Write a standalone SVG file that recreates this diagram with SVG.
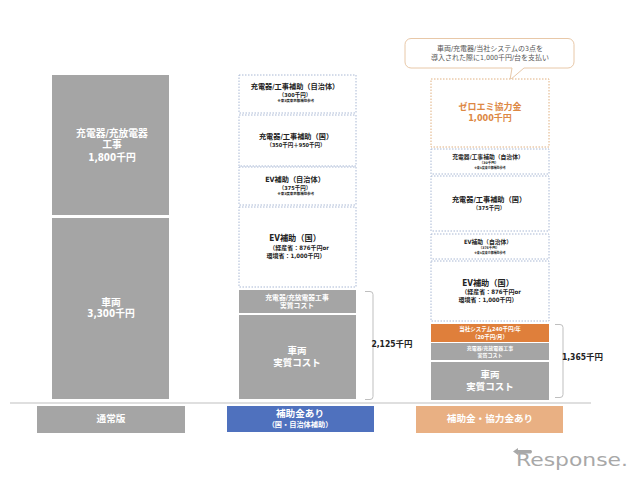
<svg xmlns="http://www.w3.org/2000/svg" width="640" height="480" viewBox="0 0 640 480">
<style>
text{font-family:"DejaVu Sans Condensed","Noto Sans CJK JP",sans-serif;text-anchor:middle}
.g{fill:#a5a5a5}
.d{fill:#fff;stroke:#a9b8d4;stroke-width:1;stroke-dasharray:1.5 1.5}
.o{fill:#fff;stroke:#e0b080;stroke-width:1;stroke-dasharray:1.5 1.5}
.w{fill:#fff;font-weight:700}
.k{fill:#222;font-weight:700}
.b{fill:none;stroke:#bfbfbf;stroke-width:1}
</style>
<rect width="640" height="480" fill="#fff"/>
<g id="col1">
<rect class="g" x="52" y="75" width="117" height="140"/>
<text class="w" font-size="9.800" x="112" y="136.500">充電器/充放電器</text>
<text class="w" font-size="9.800" x="112" y="148">工事</text>
<text class="w" font-size="9.800" x="112" y="160.500">1,800千円</text>
<rect class="g" x="52" y="218" width="117" height="181"/>
<text class="w" font-size="9.800" x="111" y="305.500">車両</text>
<text class="w" font-size="9.800" x="111" y="317">3,300千円</text>
</g>
<g id="col2">
<g id="c2a"><rect class="d" x="239" y="75" width="117" height="38"/>
<text class="k" font-size="7.200" x="295" y="89">充電器/工事補助（自治体）</text>
<text class="k" font-size="5.500" x="295" y="97">（300千円）</text>
<text class="k" font-size="3.500" x="296" y="102">※東3度東京都補助参考</text></g>
<g id="c2b"><rect class="d" x="239" y="115" width="117" height="51"/>
<text class="k" font-size="7.200" x="296" y="139">充電器/工事補助（国）</text>
<text class="k" font-size="5.500" x="296" y="147">（350千円＋950千円）</text></g>
<g id="c2c"><rect class="d" x="239" y="167" width="117" height="38"/>
<text class="k" font-size="7.200" x="295" y="182">EV補助（自治体）</text>
<text class="k" font-size="5.500" x="295" y="190">（375千円）</text>
<text class="k" font-size="3.500" x="296" y="195">※東3度東京都補助参考</text></g>
<g id="c2d"><rect class="d" x="239" y="207" width="117" height="80"/>
<text class="k" font-size="8.200" x="295" y="241">EV補助（国）</text>
<text class="k" font-size="6" x="299" y="250">（経産省：876千円or</text>
<text class="k" font-size="6" x="296" y="258">環境省：1,000千円）</text></g>
<rect class="g" x="239" y="290" width="117" height="23"/>
<text class="w" font-size="6.800" x="297" y="299.500">充電器/充放電器工事</text>
<text class="w" font-size="6.800" x="297" y="308">実質コスト</text>
<rect class="g" x="239" y="315" width="117" height="84"/>
<text class="w" font-size="9.500" x="297" y="353.500">車両</text>
<text class="w" font-size="9.500" x="297" y="365.500">実質コスト</text>
</g>
<g id="col3">
<g id="callout"><path d="M411 38.500H568a6 6 0 0 1 6 6V62a6 6 0 0 1-6 6H524L510 80L512 68H411a6 6 0 0 1-6-6V44.500a6 6 0 0 1 6-6Z" fill="#fff" stroke="#e8c8a8"/>
<text font-size="7" fill="#555" x="490" y="50.500">車両/充電器/当社システムの3点を</text>
<text font-size="7" fill="#555" x="490" y="60">導入された際に1,000千円/台を支払い</text></g>
<g id="c3a"><rect class="o" x="431" y="79" width="118" height="68"/>
<text font-size="9" font-weight="700" fill="#dd8844" x="490" y="109.500">ゼロエミ協力金</text>
<text font-size="9" font-weight="700" fill="#dd8844" x="490" y="120.500">1,000千円</text></g>
<g id="c3b"><rect class="d" x="431" y="149" width="118" height="25"/>
<text class="k" font-size="5.800" x="488" y="159">充電器/工事補助（自治体）</text>
<text class="k" font-size="3.500" x="489" y="164">（30千円）</text>
<text class="k" font-size="3" x="490" y="169">※東3度東京都補助参考</text></g>
<g id="c3c"><rect class="d" x="431" y="176" width="118" height="55"/>
<text class="k" font-size="7.200" x="489" y="202">充電器/工事補助（国）</text>
<text class="k" font-size="5.500" x="489" y="210">（375千円）</text></g>
<g id="c3d"><rect class="d" x="431" y="234" width="118" height="25"/>
<text class="k" font-size="5.800" x="488" y="243.500">EV補助（自治体）</text>
<text class="k" font-size="3.500" x="489" y="249">（375千円）</text>
<text class="k" font-size="3" x="490" y="253.500">※東3度東京都補助参考</text></g>
<g id="c3e"><rect class="d" x="431" y="261" width="118" height="60"/>
<text class="k" font-size="8.200" x="488" y="286">EV補助（国）</text>
<text class="k" font-size="6" x="491" y="294">（経産省：876千円or</text>
<text class="k" font-size="6" x="488" y="302">環境省：1,000千円）</text></g>
<rect x="431" y="324" width="118" height="18" fill="#df7f3b"/>
<text class="w" font-size="5.500" x="490" y="331">当社システム240千円/年</text>
<text class="w" font-size="5.500" x="490" y="338.500">（20千円/月）</text>
<rect class="g" x="431" y="343" width="118" height="17"/>
<text class="w" font-size="5" x="490" y="350">充電器/充放電器工事</text>
<text class="w" font-size="5" x="490" y="357">実質コスト</text>
<rect class="g" x="431" y="362" width="118" height="38"/>
<text class="w" font-size="9.500" x="490" y="378">車両</text>
<text class="w" font-size="9.500" x="490" y="390">実質コスト</text>
</g>
<g id="connectors">
<line x1="10" y1="403" x2="591" y2="403" stroke="#bfbfbf" stroke-width="1"/>
<path class="b" d="M365 291.500H370Q373 291.500 373 294.500V396.500Q373 399.500 370 399.500H365"/>
<path class="b" d="M555 324.500H560Q563 324.500 563 327.500V394.500Q563 397.500 560 397.500H555"/>
</g>
<g id="brace-labels">
<text class="k" font-size="8.500" x="392" y="347">2,125千円</text>
<text class="k" font-size="8.500" x="582.500" y="360">1,365千円</text>
</g>
<g id="tabs">
<g id="tab1"><rect class="g" x="37" y="406" width="148" height="27"/>
<text class="w" font-size="9.600" x="111" y="421.500">通常版</text></g>
<g id="tab2"><rect x="227" y="406" width="147" height="26" fill="#4f71be"/>
<text class="w" font-size="9.600" x="300" y="416.500">補助金あり</text>
<text class="w" font-size="7.200" x="300" y="426.500">（国・自治体補助）</text></g>
<g id="tab3"><rect x="416" y="406" width="147" height="27" fill="#e9b083"/>
<text class="w" font-size="9.600" x="490" y="421.500">補助金・協力金あり</text></g>
</g>
<g id="logo">
<path d="M513 451.500L518 448V450H531Q533 451.500 531 453.500H518V455Z" fill="#a8a8a8"/>
<text x="516" y="466" font-size="18" fill="#a8a8a8" textLength="112" lengthAdjust="spacingAndGlyphs" style="text-anchor:start;font-family:'DejaVu Sans',sans-serif">Response.</text>
</g>
</svg>
